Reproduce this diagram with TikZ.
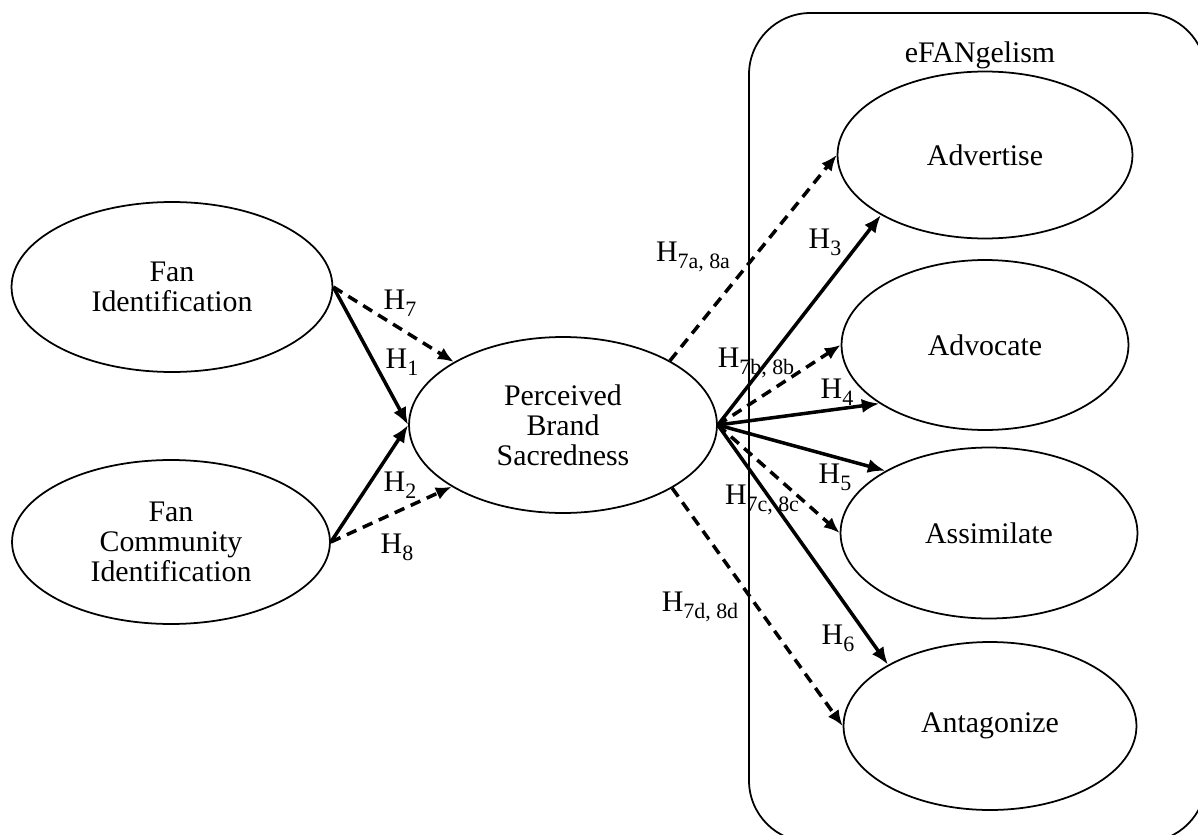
\documentclass[tikz,border=0pt]{standalone}
\usepackage{fontspec}
\setmainfont{Liberation Serif}
\usetikzlibrary{shapes.geometric,arrows.meta}
\newcommand\Hsub[1]{H\raisebox{-0.5ex}{\fontsize{12.5pt}{12.5pt}\selectfont #1}}
\begin{document}
\begin{tikzpicture}[x=0.02cm,y=-0.02cm,
  every node/.style={font=\fontsize{17pt}{17pt}\selectfont},
  construct/.style={ellipse,draw,line width=1pt,inner sep=0pt,align=center},
  sol/.style={line width=2pt,-{Latex[length=10pt,width=8pt]}},
  dsh/.style={line width=2pt,dash pattern=on 6pt off 4pt,-{Latex[length=9pt,width=7.5pt]}},
  lbl/.style={inner sep=0pt}]
\useasboundingbox (0,0) rectangle (1198,835);
\clip (0,0) rectangle (1198,835);
\fill[white] (0,0) rectangle (1198,835);
% group frame
\draw[line width=1pt,rounded corners=35pt] (749,13) rectangle (1206,842);
\node[lbl] (grp) at (980,55) {eFANgelism};
% constructs
\node[construct,minimum width=6.42cm,minimum height=3.40cm] (fi) at (172,287) {Fan\\Identification};
\node[construct,minimum width=6.36cm,minimum height=3.28cm] (fci) at (171,542) {Fan\\Community\\Identification};
\node[construct,minimum width=6.16cm,minimum height=3.52cm] (pbs) at (563,425) {Perceived\\Brand\\Sacredness};
\node[construct,minimum width=5.90cm,minimum height=3.34cm] (adv) at (985,155) {Advertise};
\node[construct,minimum width=5.74cm,minimum height=3.40cm] (avc) at (985,345) {Advocate};
\node[construct,minimum width=5.94cm,minimum height=3.42cm] (asm) at (989,533) {Assimilate};
\node[construct,minimum width=5.86cm,minimum height=3.36cm] (ant) at (990,726) {Antagonize};
% paths
\draw[sol] (fi.east) -- (pbs.west);
\draw[dsh] (fi.east) -- (pbs.150);
\draw[sol] (fci.east) -- (pbs.west);
\draw[dsh] (fci.east) -- (pbs.209);
\draw[sol] (pbs.east) -- (adv.210);
\draw[dsh] (pbs.31) -- (adv.west);
\draw[sol] (pbs.east) -- (avc.209);
\draw[dsh] (pbs.east) -- (avc.west);
\draw[sol] (pbs.east) -- (asm.149);
\draw[dsh] (pbs.east) -- (asm.west);
\draw[sol] (pbs.east) -- (ant.149);
\draw[dsh] (pbs.-30) -- (ant.west);
% labels
\node[lbl] (l7) at (400,303) {\Hsub{7}};
\node[lbl] (l1) at (402,362) {\Hsub{1}};
\node[lbl] (l2) at (400,485) {\Hsub{2}};
\node[lbl] (l8) at (397,547) {\Hsub{8}};
\node[lbl] (l7a) at (693,257) {\Hsub{7a, 8a}};
\node[lbl] (l3) at (825,242) {\Hsub{3}};
\node[lbl] (l7b) at (756,363) {\Hsub{7b, 8b}};
\node[lbl] (l4) at (837,392) {\Hsub{4}};
\node[lbl] (l5) at (835,477) {\Hsub{5}};
\node[lbl] (l7c) at (762,500) {\Hsub{7c, 8c}};
\node[lbl] (l7d) at (700,607) {\Hsub{7d, 8d}};
\node[lbl] (l6) at (838,638) {\Hsub{6}};
\end{tikzpicture}
\end{document}
